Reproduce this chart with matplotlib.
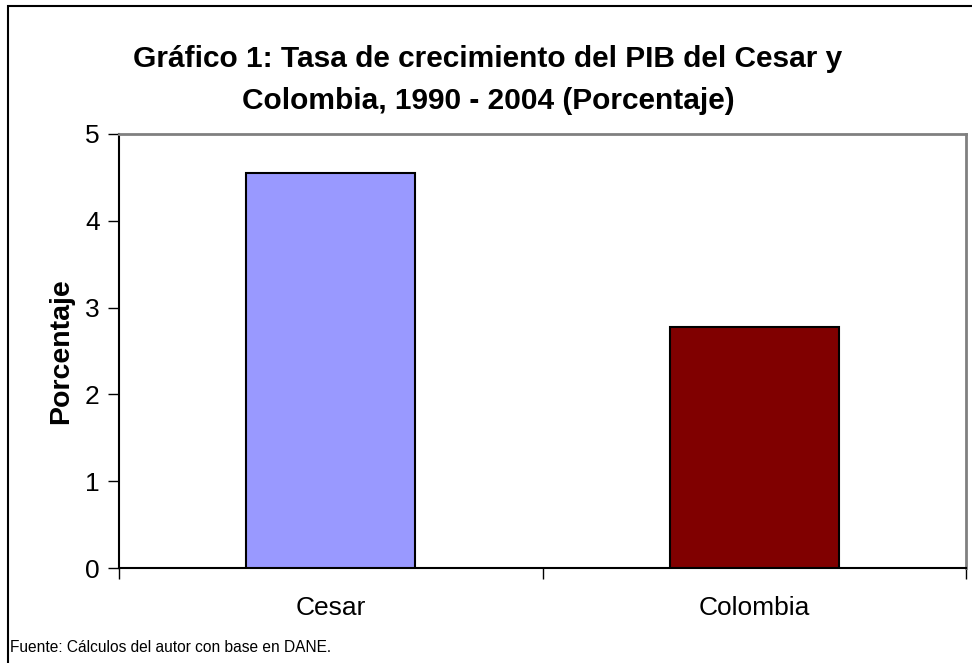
import matplotlib.pyplot as plt
from matplotlib.patches import Rectangle

plt.rcParams['font.family'] = ['Liberation Sans', 'DejaVu Sans']

categories = ["Cesar", "Colombia"]
values = [4.55, 2.78]
colors = ["#9999FF", "#800000"]
yticks = [0, 1, 2, 3, 4, 5]

fig = plt.figure(figsize=(9.72, 6.63), dpi=100)

# outer chart frame (cut off on right and bottom like the source)
fig.patches.append(Rectangle((8 / 972, -0.1), 1.2, 1 - 6 / 663 + 0.1,
                             transform=fig.transFigure, fill=False,
                             edgecolor='black', linewidth=1.5))

ax = fig.add_axes([119 / 972, 1 - 568 / 663, (966 - 119) / 972, (568 - 134) / 663])
x = range(len(categories))
ax.bar(x, values, width=0.4, color=colors, edgecolor='black', linewidth=1.5, zorder=3)

ax.set_xlim(-0.5, 1.5)
ax.set_ylim(0, 5)
ax.set_yticks(yticks)
ax.set_xticks(list(x))
ax.set_xticklabels(categories, fontsize=19)
ax.set_xticks([-0.5, 0.5, 1.5], minor=True)
ax.tick_params(axis='x', which='major', length=0, pad=20)
ax.tick_params(axis='x', which='minor', length=8, width=1, direction='out')
ax.tick_params(axis='y', length=8, width=1, labelsize=19, pad=6)

for s in ['top', 'right']:
    ax.spines[s].set_color('#808080')
    ax.spines[s].set_linewidth(2)
for s in ['left', 'bottom']:
    ax.spines[s].set_color('black')
    ax.spines[s].set_linewidth(1.5)

ax.set_ylabel('Porcentaje', fontsize=20.5, fontweight='bold', labelpad=8)

fig.text(488 / 972, 1 - 80 / 663,
         'Gráfico 1: Tasa de crecimiento del PIB del Cesar y\nColombia, 1990 - 2004 (Porcentaje)',
         ha='center', va='center', fontsize=21.5, fontweight='bold', linespacing=1.66)
fig.text(10 / 972, 1 - 648 / 663, 'Fuente: Cálculos del autor con base en DANE.',
         ha='left', va='center', fontsize=11.2)

fig.savefig('out.png', dpi=100)
